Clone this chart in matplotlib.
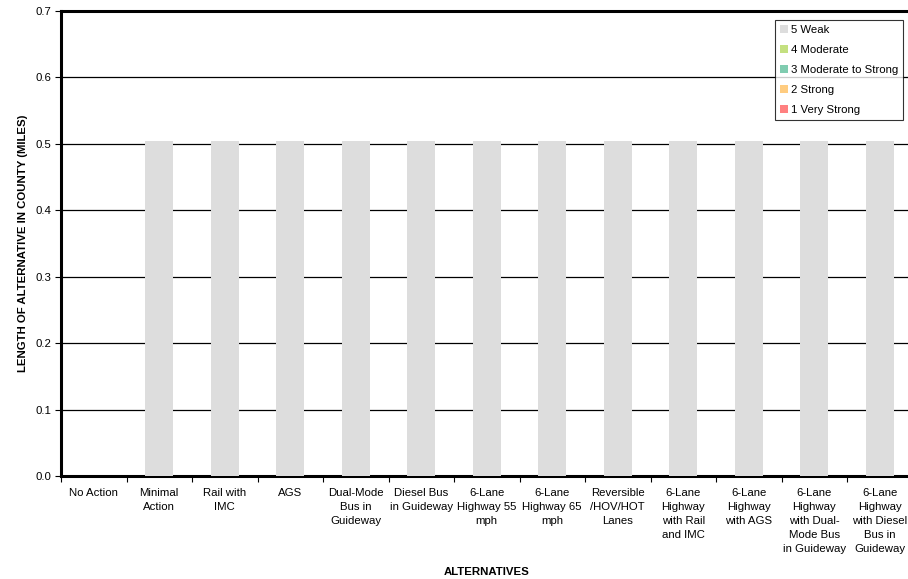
import numpy as np
import matplotlib.pyplot as plt
from matplotlib.patches import Patch

plt.rcParams['font.family'] = ['Liberation Sans', 'DejaVu Sans']

# alternatives along the x axis
alternativas = [
    "No Action", "Minimal\nAction", "Rail with\nIMC", "AGS",
    "Dual-Mode\nBus in\nGuideway", "Diesel Bus\nin Guideway",
    "6-Lane\nHighway 55\nmph", "6-Lane\nHighway 65\nmph",
    "Reversible\n/HOV/HOT\nLanes", "6-Lane\nHighway\nwith Rail\nand IMC",
    "6-Lane\nHighway\nwith AGS", "6-Lane\nHighway\nwith Dual-\nMode Bus\nin Guideway",
    "6-Lane\nHighway\nwith Diesel\nBus in\nGuideway",
]

# miles per rating (stacked from 1 up to 5)
muy_fuerte = [0, 0, 0, 0, 0, 0, 0, 0, 0, 0, 0, 0, 0]
fuerte = [0, 0, 0, 0, 0, 0, 0, 0, 0, 0, 0, 0, 0]
mod_fuerte = [0, 0, 0, 0, 0, 0, 0, 0, 0, 0, 0, 0, 0]
moderado = [0, 0, 0, 0, 0, 0, 0, 0, 0, 0, 0, 0, 0]
debil = [0, 0.505, 0.505, 0.505, 0.505, 0.505, 0.505, 0.505, 0.505, 0.505, 0.505, 0.505, 0.505]

series = [
    ("1 Very Strong", muy_fuerte, "#ff8080"),
    ("2 Strong", fuerte, "#ffcc80"),
    ("3 Moderate to Strong", mod_fuerte, "#80ccb0"),
    ("4 Moderate", moderado, "#c4e080"),
    ("5 Weak", debil, "#dddddd"),
]

fig = plt.figure(figsize=(9.08, 5.79), dpi=100)
ax = fig.add_axes([61/908, 1 - 476/579, 851.5/908, 465/579])

x = np.arange(len(alternativas))
base = np.zeros(len(alternativas))
for nombre, valores, color in series:
    ax.bar(x, valores, width=0.42, bottom=base, color=color, zorder=3)
    base = base + np.array(valores)

# ejes
ax.set_ylim(0, 0.7)
ax.set_xlim(-0.5, len(alternativas) - 0.5)
ax.set_yticks(np.arange(0, 0.71, 0.1))
ax.set_yticklabels([f"{v:.1f}" for v in np.arange(0, 0.71, 0.1)], fontsize=8.2)
ax.yaxis.grid(True, color="black", linewidth=0.9, zorder=0)
ax.set_axisbelow(True)

ax.set_xticks(x)
ax.set_xticklabels(alternativas, fontsize=8.2, va="top", linespacing=1.5)
ax.tick_params(axis="x", length=0, pad=9)
ax.set_xticks(np.arange(-0.5, len(alternativas)), minor=True)
ax.tick_params(axis="x", which="minor", length=4, width=0.8)
ax.tick_params(axis="y", length=4, width=0.8, pad=3)

for lado in ["top", "left", "bottom"]:
    ax.spines[lado].set_linewidth(2.2)
ax.spines["right"].set_visible(False)

ax.set_xlabel("ALTERNATIVES", fontsize=8.2, fontweight="bold", labelpad=9)
ax.set_ylabel("LENGTH OF ALTERNATIVE IN COUNTY (MILES)", fontsize=8.2,
              fontweight="bold", labelpad=5)

# leyenda
handles = [Patch(facecolor=c, label=n) for n, _, c in reversed(series)]
leg = fig.legend(handles=handles, loc="upper right",
                 bbox_to_anchor=(903/908, 1 - 20/579),
                 fontsize=8.2, frameon=True, fancybox=False, handlelength=0.7,
                 handleheight=0.7, handletextpad=0.2, labelspacing=0.87,
                 borderpad=0.45, borderaxespad=0)
leg.get_frame().set_edgecolor("black")
leg.get_frame().set_linewidth(0.8)
leg.set_zorder(5)

plt.savefig("out.png", dpi=100)
